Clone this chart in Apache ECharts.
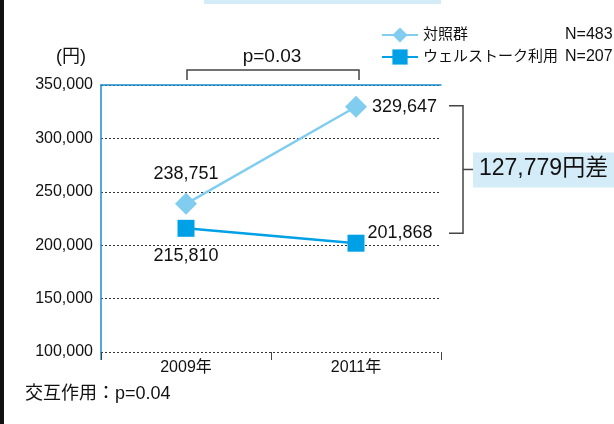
<!DOCTYPE html>
<html>
<head>
<meta charset="utf-8">
<script src="https://cdn.jsdelivr.net/npm/echarts@6/dist/echarts.min.js"></script>
<style>
  html,body{margin:0;padding:0;background:#fff;}
  #main{width:614px;height:424px;}
</style>
</head>
<body>
<div id="main"></div>
<script>
/* データ */
const years = ["2009年", "2011年"];
const controlVals = [238751, 329647];
const wellVals = [215810, 201868];
const seriesNames = ["対照群", "ウェルストーク利用"];
const nLabels = ["N=483", "N=207"];
const yTicks = [100000, 150000, 200000, 250000, 300000, 350000];
const diffText = "127,779円差";
const pTop = "p=0.03";
const pInter = "交互作用：p=0.04";

const FONT = '"Liberation Sans","Noto Sans CJK JP",sans-serif';
const C_LIGHT = "#80cdf0", C_DARK = "#00a0e6", C_AXIS = "#1a8ccc";

const fmt = v => v.toLocaleString("en-US");
const chart = echarts.init(document.getElementById("main"));

// 値ラベルの位置
const ctrlLabel = [
  {position:"top", distance:10, offset:[0,0]},
  {position:"right", distance:5, offset:[0,0]}
];
const wellLabel = [
  {position:"bottom", distance:10, offset:[0,0]},
  {position:"right", distance:3, offset:[0,-10]}
];

const mkData = (vals, lbl) => vals.map((v,i)=>({
  value:v,
  label:Object.assign({show:true, formatter:fmt(v), fontSize:18, color:"#111", fontFamily:FONT}, lbl[i])
}));

chart.setOption({
  animation:false,
  textStyle:{fontFamily:FONT},
  grid:{left:101, right:173, top:85, bottom:72},
  legend:{
    top:22, left:376, orient:"vertical", itemGap:6,
    itemWidth:36, itemHeight:19,
    data:seriesNames,
    formatter:name=>{
      const i = seriesNames.indexOf(name);
      return "{a|"+name+"}{b|"+nLabels[i]+"}";
    },
    textStyle:{
      fontSize:15, color:"#111",
      rich:{a:{width:142, fontSize:15, fontFamily:FONT}, b:{fontSize:16, fontFamily:FONT}}
    }
  },
  xAxis:[{
    type:"category", data:years, boundaryGap:true,
    axisLine:{show:false},
    axisTick:{show:true, length:8, lineStyle:{color:"#444"}},
    axisLabel:{fontSize:16, color:"#111", margin:8}
  },{
    type:"category", data:years, position:"top",
    axisLine:{show:true, lineStyle:{color:C_AXIS, width:1.5}},
    axisTick:{show:false}, axisLabel:{show:false}
  }],
  yAxis:{
    type:"value", min:yTicks[0], max:yTicks[yTicks.length-1], interval:50000,
    axisLine:{show:true, lineStyle:{color:C_AXIS, width:1.5}},
    axisTick:{show:false},
    axisLabel:{fontSize:16, color:"#111", margin:8, formatter:v=>fmt(v)},
    splitLine:{lineStyle:{color:"#333", type:[2,2], width:1}}
  },
  series:[{
    name:seriesNames[0], type:"line", data:mkData(controlVals, ctrlLabel),
    symbol:"diamond", symbolSize:22,
    lineStyle:{color:C_LIGHT, width:2.5}, itemStyle:{color:C_LIGHT}
  },{
    name:seriesNames[1], type:"line", data:mkData(wellVals, wellLabel),
    symbol:"rect", symbolSize:17,
    lineStyle:{color:C_DARK, width:2.5}, itemStyle:{color:C_DARK}
  }]
});

// 注釈（括弧など）をデータ座標から配置
const p = (x,y)=>chart.convertToPixel({gridIndex:0},[x,y]);
const top1 = p(1, controlVals[1]), bot1 = p(1, wellVals[1]);
const c0 = p(0, yTicks[5]), c1 = p(1, yTicks[5]);
const base = p(0, yTicks[0]);
const bx = 463, yTop = top1[1]-1, yBot = bot1[1]-10, midY = (yTop+yBot)/2;
const lineSt = {stroke:"#444", lineWidth:1.5};

chart.setOption({
  graphic:[
    {type:"rect", shape:{x:0,y:0,width:4,height:424}, style:{fill:"#111"}},
    {type:"rect", shape:{x:204,y:0,width:237,height:4}, style:{fill:"#d4ecf8"}},
    {type:"line", shape:{x1:101,y1:base[1],x2:101,y2:base[1]+8}, style:{stroke:C_AXIS, lineWidth:1.5}},
    {type:"text", x:56, y:48, style:{text:"(円)", fontSize:18, fill:"#111", fontFamily:FONT}},
    {type:"polyline", shape:{points:[[c0[0]+1,80],[c0[0]+1,70],[c1[0]+3,70],[c1[0]+3,80]]}, style:Object.assign({fill:null},lineSt)},
    {type:"text", x:(c0[0]+c1[0])/2+1, y:47, style:{text:pTop, fontSize:19, fill:"#111", fontFamily:FONT, align:"center"}},
    {type:"polyline", shape:{points:[[bx-14,yTop],[bx,yTop],[bx,yBot],[bx-14,yBot]]}, style:Object.assign({fill:null},lineSt)},
    {type:"line", shape:{x1:bx,y1:midY,x2:473,y2:midY}, style:lineSt},
    {type:"rect", shape:{x:473,y:midY-17,width:141,height:35}, style:{fill:"#d4ecf8"}},
    {type:"text", x:479, y:midY-12, style:{text:diffText, fontSize:23, fill:"#111", fontFamily:FONT}},
    {type:"text", x:25, y:385, style:{text:pInter, fontSize:18, fill:"#111", fontFamily:FONT}}
  ]
});
</script>
</body>
</html>
